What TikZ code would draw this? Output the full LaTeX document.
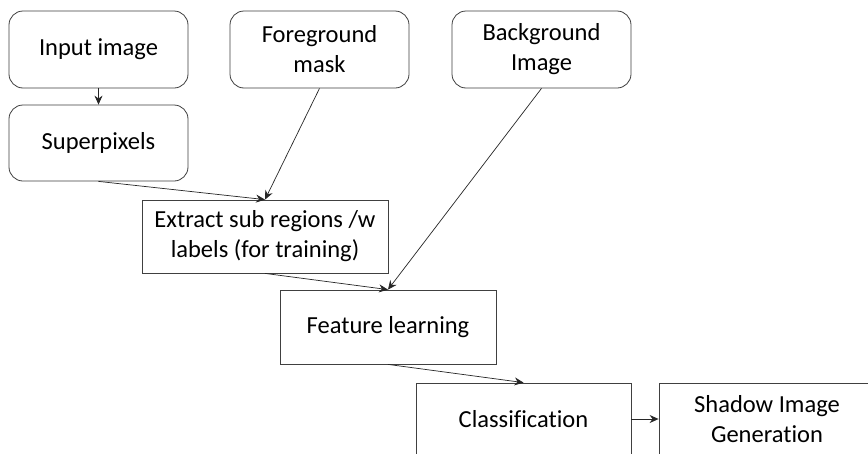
\documentclass[tikz,border=0pt]{standalone}
\usepackage{fontspec}
\setmainfont[Ligatures=NoCommon]{Carlito}
\usetikzlibrary{arrows.meta}
\begin{document}
\begin{tikzpicture}[x=1pt,y=-1pt,
  rbox/.style={draw=black!75,line width=0.8pt,rounded corners=14pt,align=center,font=\fontsize{24.5}{30}\selectfont,text=black,inner sep=0pt},
  sbox/.style={draw=black!75,line width=0.8pt,align=center,font=\fontsize{24.5}{30}\selectfont,text=black,inner sep=0pt},
  conn/.style={draw=black!85,line width=0.7pt,-{Stealth[length=9pt,width=8pt,inset=3pt]}}]
\clip (0,0) rectangle (868,453);
\fill[white] (0,0) rectangle (868,453);
\node[rbox,minimum width=179pt,minimum height=77pt] (in) at (98.5,49.5) {Input image};
\node[rbox,minimum width=179pt,minimum height=76pt] (sp) at (98.5,143) {Superpixels};
\node[rbox,minimum width=179pt,minimum height=77pt] (fg) at (319.5,49.5) {Foreground\\mask};
\node[rbox,minimum width=179pt,minimum height=77pt] (bg) at (541.5,49.5) {Background\\Image};
\node[sbox,minimum width=246pt,minimum height=73pt] (ex) at (265,236.5) {Extract sub regions /w\\labels (for training)};
\node[sbox,minimum width=216pt,minimum height=74pt] (fl) at (388,327) {Feature learning};
\node[sbox,minimum width=215pt,minimum height=72pt] (cl) at (523.5,419) {Classification};
\node[sbox,minimum width=216pt,minimum height=72pt] (sh) at (767,419) {Shadow Image\\Generation};
\draw[conn] (in.south) -- (sp.north);
\draw[conn] (sp.south) -- (ex.north);
\draw[conn] (fg.south) -- (ex.north);
\draw[conn] (ex.south) -- (fl.north);
\draw[conn] (bg.south) -- (fl.north);
\draw[conn] (fl.south) -- (cl.north);
\draw[conn] (cl.east) -- (sh.west);
\end{tikzpicture}
\end{document}
